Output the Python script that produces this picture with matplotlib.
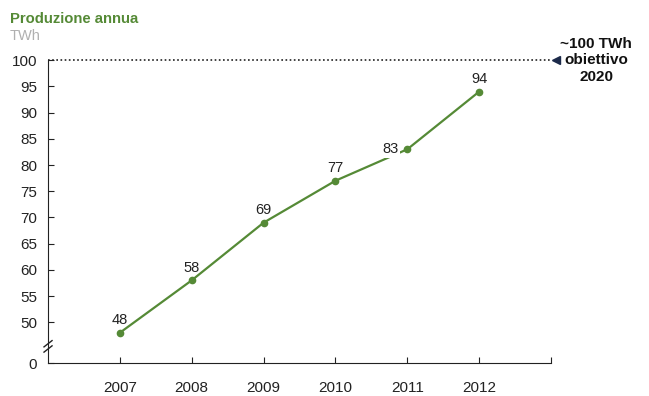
import numpy as np
import matplotlib
matplotlib.use("Agg")
import matplotlib.pyplot as plt

anni = [2007, 2008, 2009, 2010, 2011, 2012]
produzione = [48, 58, 69, 77, 83, 94]
obiettivo = 100
yticks = [0, 50, 55, 60, 65, 70, 75, 80, 85, 90, 95, 100]

verde = "#558a36"
plt.rcParams["font.family"] = ["Liberation Sans", "DejaVu Sans"]

# asse y spezzato: 0-44 compresso in poco spazio, lineare sopra
def avanti(y):
    y = np.asarray(y, dtype=float)
    return np.where(y >= 44, y, 42.2 + y * 1.8 / 44)

def indietro(v):
    v = np.asarray(v, dtype=float)
    return np.where(v >= 44, v, (v - 42.2) * 44 / 1.8)

fig = plt.figure(figsize=(6.49, 3.96), dpi=100)
ax = fig.add_axes([0.074, 0.083, 0.775, 0.765])
ax.set_yscale("function", functions=(avanti, indietro))

ax.plot(anni, produzione, color=verde, lw=1.6, marker="o", ms=4.5, zorder=2)

for a, v in zip(anni, produzione):
    if a == 2011:
        # etichetta a sinistra, copre la linea
        ax.annotate(str(v), (a, v), xytext=(-12, 0), textcoords="offset points",
                    ha="center", va="center", fontsize=10.5, color="#222222",
                    bbox=dict(boxstyle="square,pad=0.1", fc="white", ec="none"),
                    zorder=3)
    else:
        ax.annotate(str(v), (a, v), xytext=(0, 9), textcoords="offset points",
                    ha="center", va="center", fontsize=10.5, color="#222222",
                    zorder=3)

ax.axhline(obiettivo, color="#222222", lw=1.2, ls=(0, (1, 1.5)), clip_on=False)
ax.plot([1.01], [obiettivo], marker="<", color="#1c2a4a", ms=6,
        transform=ax.get_yaxis_transform(), clip_on=False)
ax.text(1.09, 1.0, "~100 TWh\nobiettivo\n2020", transform=ax.transAxes,
        ha="center", va="center", fontsize=11, fontweight="bold",
        linespacing=1.22, color="#111111")

ax.set_xlim(2006, 2013)
ax.set_ylim(0, 100)
ax.set_xticks(anni + [2013])
ax.set_xticklabels([str(a) for a in anni] + [""])
ax.set_yticks(yticks)
ax.tick_params(direction="in", length=4, labelsize=11, colors="#222222")
ax.tick_params(axis="x", pad=13)
ax.tick_params(axis="y", pad=8)
for s in ["top", "right"]:
    ax.spines[s].set_visible(False)
for s in ["left", "bottom"]:
    ax.spines[s].set_color("#222222")

# segni di interruzione sull'asse y
tr = ax.get_yaxis_transform()
for y0 in [44.9, 45.9]:
    ax.plot([-0.008, 0.008], [y0 - 0.6, y0 + 0.6], color="#222222", lw=1,
            transform=tr, clip_on=False)
ax.plot([-0.01, 0.01], [45.4, 45.4], color="white", lw=3, transform=tr,
        clip_on=False, zorder=1)

fig.text(0.015, 0.952, "Produzione annua", color=verde, fontsize=10.7,
         fontweight="bold", va="center")
fig.text(0.015, 0.908, "TWh", color="#b0b0b0", fontsize=10.5, va="center")

fig.savefig("out.png", dpi=100)
